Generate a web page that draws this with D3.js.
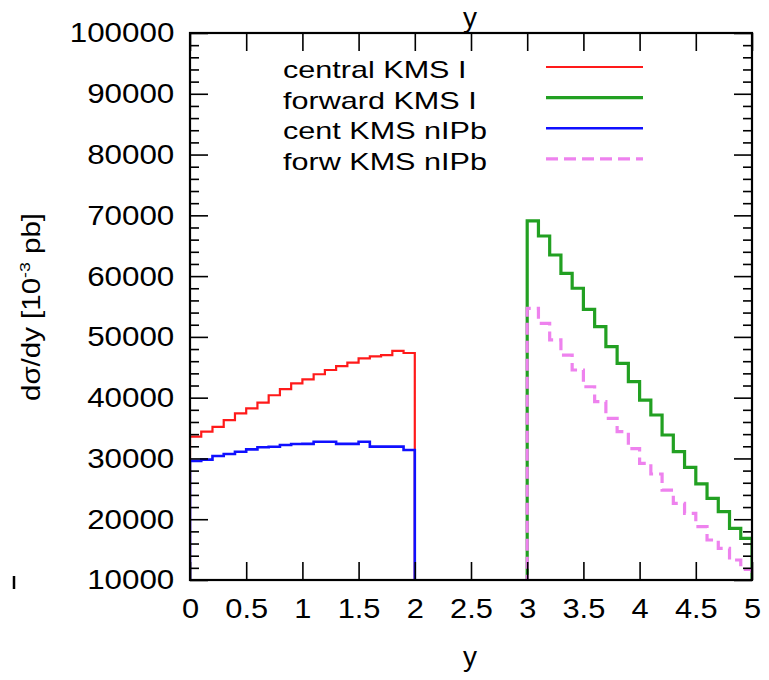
<!DOCTYPE html>
<html><head><meta charset="utf-8">
<script src="https://cdn.jsdelivr.net/npm/d3@7"></script>
<style>
body{margin:0;background:#fff}
svg{display:block}
text{font-family:"Liberation Sans",Arial,sans-serif;fill:#000}
</style>
</head><body>
<svg id="chart" width="769" height="680"></svg>
<script>
// ---- data ----
const centralBinStarts = [0.0,0.1,0.2,0.3,0.4,0.5,0.6,0.7,0.8,0.9,1.0,1.1,1.2,1.3,1.4,1.5,1.6,1.7,1.8,1.9];
const forwardBinStarts = [3.0,3.1,3.2,3.3,3.4,3.5,3.6,3.7,3.8,3.9,4.0,4.1,4.2,4.3,4.4,4.5,4.6,4.7,4.8,4.9];
const binWidth = 0.1;
const centralKMS = [33600,34400,35200,36300,37400,38250,39200,40400,41400,42350,43000,43850,44550,45200,45750,46450,46800,47000,47700,47350];
const forwardKMS = [69100,66600,63470,60460,58000,54530,51680,48390,45650,42630,39600,37150,33860,31110,28540,25800,23440,21240,18500,16860];
const centNIPb   = [29600,29800,30400,30730,31100,31500,31830,31930,32200,32380,32400,32750,32750,32400,32400,32750,31950,31950,31950,31400];
const forwNIPb   = [54700,52230,49500,47000,44550,41800,39340,36600,34400,31600,29200,27440,24800,22620,20970,18770,16580,15200,13290,11760];
const seriesNames = ["central KMS I","forward KMS I","cent KMS nIPb","forw KMS nIPb"];
const xTicks = [0,0.5,1,1.5,2,2.5,3,3.5,4,4.5,5];
const xTickLabels = ["0","0.5","1","1.5","2","2.5","3","3.5","4","4.5","5"];
const yTicks = [10000,20000,30000,40000,50000,60000,70000,80000,90000,100000];
const yTickLabels = ["10000","20000","30000","40000","50000","60000","70000","80000","90000","100000"];
const yMinorTicks = [12000,14000,16000,18000,22000,24000,26000,28000,32000,34000,36000,38000,42000,44000,46000,48000,52000,54000,56000,58000,62000,64000,66000,68000,72000,74000,76000,78000,82000,84000,86000,88000,92000,94000,96000,98000];
const xLabel = "y";
const topLabel = "y";

// ---- layout ----
const L = 190, R = 752, T = 33, B = 580;
const svg = d3.select("#chart");
const x = d3.scaleLinear().domain([0,5]).range([L,R]);
const y = d3.scaleLinear().domain([10000,100000]).range([B,T]);

svg.append("defs").append("clipPath").attr("id","plotclip")
  .append("rect").attr("x",L).attr("y",T).attr("width",R-L).attr("height",B-T);

const series = [
  {starts: centralBinStarts, vals: centralKMS, color:"#ff1a1a", w:2.2, dash:null},
  {starts: forwardBinStarts, vals: forwardKMS, color:"#22a022", w:3.2, dash:null},
  {starts: centralBinStarts, vals: centNIPb,   color:"#1010ff", w:2.6, dash:null},
  {starts: forwardBinStarts, vals: forwNIPb,   color:"#ee82ee", w:3.2, dash:"12,6"}
];

const line = d3.line().x(d=>x(d[0])).y(d=>y(d[1])).curve(d3.curveStepAfter);
function histPoints(starts, vals){
  const pts = [[starts[0], 0]];
  starts.forEach((s,i)=>pts.push([s, vals[i]]));
  const end = starts[starts.length-1] + binWidth;
  pts.push([end, vals[vals.length-1]]);
  pts.push([end, 0]);
  return pts;
}
const plot = svg.append("g").attr("clip-path","url(#plotclip)");
series.forEach(s=>{
  plot.append("path").attr("d", line(histPoints(s.starts, s.vals)))
    .attr("fill","none").attr("stroke",s.color).attr("stroke-width",s.w)
    .attr("stroke-dasharray",s.dash).attr("stroke-linejoin","miter");
});

// ---- axes ----
const major = 18, minor = 9;
const gB = svg.append("g").attr("transform",`translate(0,${B})`)
  .call(d3.axisBottom(x).tickValues(xTicks).tickFormat((d,i)=>xTickLabels[i]).tickSize(-major).tickPadding(18));
const gT = svg.append("g").attr("transform",`translate(0,${T})`)
  .call(d3.axisTop(x).tickValues(xTicks).tickFormat("").tickSize(-major));
const gL = svg.append("g").attr("transform",`translate(${L},0)`)
  .call(d3.axisLeft(y).tickValues(yTicks).tickFormat((d,i)=>yTickLabels[i]).tickSize(-major).tickPadding(14));
const gLm = svg.append("g").attr("transform",`translate(${L},0)`)
  .call(d3.axisLeft(y).tickValues(yMinorTicks).tickFormat("").tickSize(-minor));
const gR = svg.append("g").attr("transform",`translate(${R},0)`)
  .call(d3.axisRight(y).tickValues(yTicks).tickFormat("").tickSize(-major));
const gRm = svg.append("g").attr("transform",`translate(${R},0)`)
  .call(d3.axisRight(y).tickValues(yMinorTicks).tickFormat("").tickSize(-minor));
[gB,gT,gL,gLm,gR,gRm].forEach(g=>{
  g.select(".domain").remove();
  g.selectAll(".tick line").attr("stroke","#000").attr("stroke-width",1.6);
  g.selectAll("text").attr("font-size",28).attr("font-family","'Liberation Sans',Arial,sans-serif").attr("fill","#000");
});
gB.selectAll("text").attr("transform","scale(1.1,1)");
gL.selectAll("text").attr("transform","scale(1.12,1)");

// frame
svg.append("rect").attr("x",L).attr("y",T).attr("width",R-L).attr("height",B-T)
  .attr("fill","none").attr("stroke","#000").attr("stroke-width",2.2);

// axis titles
svg.append("text").attr("x",470).attr("y",666).attr("text-anchor","middle").attr("font-size",28).text(xLabel);
svg.append("text").attr("x",470).attr("y",27).attr("text-anchor","middle").attr("font-size",28).text(topLabel);
const yl = svg.append("text").attr("transform","translate(40,307) rotate(-90)")
  .attr("text-anchor","middle").attr("font-size",25)
  .attr("textLength",188).attr("lengthAdjust","spacingAndGlyphs");
yl.append("tspan").text("dσ/dy [10");
yl.append("tspan").attr("font-size",15).attr("dy",-10).text("-3");
yl.append("tspan").attr("dy",10).text(" pb]");

// stray mark at lower left
svg.append("line").attr("x1",14).attr("x2",14).attr("y1",576).attr("y2",589).attr("stroke","#000").attr("stroke-width",2.5);

// ---- legend ----
const leg = svg.append("g");
series.forEach((s,i)=>{
  const by = 78 + i*30.6;
  leg.append("text").attr("transform",`translate(283,${by}) scale(1.33,1)`).attr("font-size",23).text(seriesNames[i]);
  leg.append("line").attr("x1",546).attr("x2",643).attr("y1",by-11).attr("y2",by-11)
    .attr("stroke",s.color).attr("stroke-width",s.w).attr("stroke-dasharray",s.dash);
});
</script>
</body></html>
